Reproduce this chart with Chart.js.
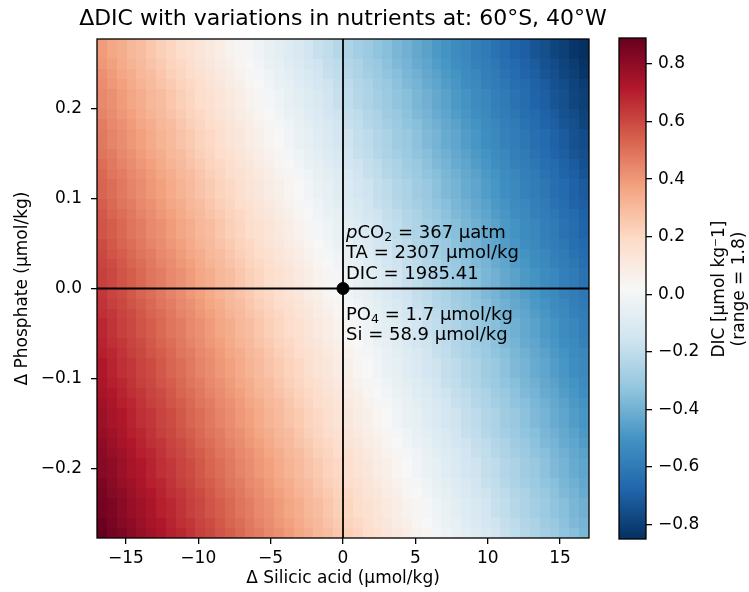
<!DOCTYPE html>
<html>
<head>
<meta charset="utf-8">
<script src="https://cdn.jsdelivr.net/npm/chart.js@4.4.1/dist/chart.umd.min.js"></script>
<style>
    body { margin: 0; background: #fff; }
    #figure { position: relative; width: 749px; height: 592px; font-family: "DejaVu Sans", sans-serif; color: #000; }
    canvas { position: absolute; top: 0; }
    #heatmap { left: 0; }
    #colorbar { left: 600px; }
    .figure-text { position: absolute; white-space: nowrap; }
    #figure-title { left: 0; top: 6px; width: 686px; text-align: center; font-size: 22px; line-height: 24px; }
    .station-note { left: 346px; font-size: 18px; line-height: 20.4px; }
    .station-note sub { font-size: 70%; line-height: 0; vertical-align: -0.25em; }
    #station-carbonate { top: 222px; }
    #station-nutrients { top: 304px; }
    #colorbar-label { left: 578px; top: 269px; width: 300px; height: 40px; text-align: center; font-size: 17px; line-height: 20px; transform: rotate(-90deg); }
</style>
</head>
<body>
<div id="figure">
    <canvas id="heatmap" width="686" height="592"></canvas>
    <canvas id="colorbar" width="149" height="592"></canvas>
    <div id="figure-title" class="figure-text">ΔDIC with variations in nutrients at: 60°S, 40°W</div>
    <div id="station-carbonate" class="figure-text station-note"><i>p</i>CO<sub>2</sub> = 367 μatm<br>TA = 2307 μmol/kg<br>DIC = 1985.41</div>
    <div id="station-nutrients" class="figure-text station-note">PO<sub>4</sub> = 1.7 μmol/kg<br>Si = 58.9 μmol/kg</div>
    <div id="colorbar-label" class="figure-text">DIC [μmol kg⁻1]<br>(range = 1.8)</div>
</div>
<script>
// =========================================================
// DATA
// =========================================================

const siliconLimits = [-17, 17];
const phosphateLimits = [-0.2775, 0.2775];

// cell centres of the grid (Δ silicic acid, Δ phosphate)
const siliconCenters = [
    -16.66, -15.98, -15.30, -14.62, -13.94, -13.26, -12.58, -11.90, -11.22, -10.54,
    -9.86, -9.18, -8.50, -7.82, -7.14, -6.46, -5.78, -5.10, -4.42, -3.74,
    -3.06, -2.38, -1.70, -1.02, -0.34, 0.34, 1.02, 1.70, 2.38, 3.06,
    3.74, 4.42, 5.10, 5.78, 6.46, 7.14, 7.82, 8.50, 9.18, 9.86,
    10.54, 11.22, 11.90, 12.58, 13.26, 13.94, 14.62, 15.30, 15.98, 16.66
];
const phosphateCenters = [
    -0.2720, -0.2609, -0.2498, -0.2387, -0.2276, -0.2165, -0.2054, -0.1943, -0.1832, -0.1721,
    -0.1610, -0.1499, -0.1388, -0.1277, -0.1166, -0.1055, -0.0944, -0.0833, -0.0722, -0.0611,
    -0.0500, -0.0389, -0.0278, -0.0167, -0.0056, 0.0056, 0.0167, 0.0278, 0.0389, 0.0500,
    0.0611, 0.0722, 0.0833, 0.0944, 0.1055, 0.1166, 0.1277, 0.1388, 0.1499, 0.1610,
    0.1721, 0.1832, 0.1943, 0.2054, 0.2165, 0.2276, 0.2387, 0.2498, 0.2609, 0.2720
];

const siliconTicks = [-15, -10, -5, 0, 5, 10, 15];
const phosphateTicks = [-0.2, -0.1, 0, 0.1, 0.2];
const colorbarTicks = [-0.8, -0.6, -0.4, -0.2, 0, 0.2, 0.4, 0.6, 0.8];

const referencePoint = [{ x: 0, y: 0 }];

// ΔDIC in 0.01 µmol/kg, one row per phosphate centre (bottom row first), one value per silicon centre
const dicChangeRows = [
    [89,86,84,81,78,76,73,70,68,65,62,60,57,55,52,49,47,44,42,39,36,34,31,29,26,23,21,18,16,13,11,8,5,3,0,-2,-5,-7,-10,-12,-15,-18,-20,-23,-25,-28,-30,-33,-35,-38],
    [88,85,82,80,77,74,72,69,66,64,61,59,56,53,51,48,45,43,40,38,35,32,30,27,25,22,20,17,14,12,9,7,4,2,-1,-4,-6,-9,-11,-14,-16,-19,-21,-24,-26,-29,-31,-34,-37,-39],
    [86,84,81,78,76,73,70,68,65,62,60,57,55,52,49,47,44,42,39,36,34,31,29,26,23,21,18,16,13,11,8,5,3,0,-2,-5,-7,-10,-12,-15,-18,-20,-23,-25,-28,-30,-33,-35,-38,-40],
    [86,84,81,78,76,73,70,68,65,62,60,57,55,52,49,47,44,42,39,36,34,31,29,26,23,21,18,16,13,11,8,5,3,0,-2,-5,-7,-10,-12,-15,-18,-20,-23,-25,-28,-30,-33,-35,-38,-40],
    [85,82,80,77,74,72,69,66,64,61,59,56,53,51,48,45,43,40,38,35,32,30,27,25,22,20,17,14,12,9,7,4,2,-1,-4,-6,-9,-11,-14,-16,-19,-21,-24,-26,-29,-31,-34,-37,-39,-42],
    [84,81,78,76,73,70,68,65,62,60,57,55,52,49,47,44,42,39,36,34,31,29,26,23,21,18,16,13,11,8,5,3,0,-2,-5,-7,-10,-12,-15,-18,-20,-23,-25,-28,-30,-33,-35,-38,-40,-43],
    [82,80,77,74,72,69,66,64,61,59,56,53,51,48,45,43,40,38,35,32,30,27,25,22,20,17,14,12,9,7,4,2,-1,-4,-6,-9,-11,-14,-16,-19,-21,-24,-26,-29,-31,-34,-37,-39,-42,-44],
    [82,80,77,74,72,69,66,64,61,59,56,53,51,48,45,43,40,38,35,32,30,27,25,22,20,17,14,12,9,7,4,2,-1,-4,-6,-9,-11,-14,-16,-19,-21,-24,-26,-29,-31,-34,-37,-39,-42,-44],
    [81,78,76,73,70,68,65,62,60,57,55,52,49,47,44,42,39,36,34,31,29,26,23,21,18,16,13,11,8,5,3,0,-2,-5,-7,-10,-12,-15,-18,-20,-23,-25,-28,-30,-33,-35,-38,-40,-43,-45],
    [80,77,74,72,69,66,64,61,59,56,53,51,48,45,43,40,38,35,32,30,27,25,22,20,17,14,12,9,7,4,2,-1,-4,-6,-9,-11,-14,-16,-19,-21,-24,-26,-29,-31,-34,-37,-39,-42,-44,-47],
    [78,76,73,70,68,65,62,60,57,55,52,49,47,44,42,39,36,34,31,29,26,23,21,18,16,13,11,8,5,3,0,-2,-5,-7,-10,-12,-15,-18,-20,-23,-25,-28,-30,-33,-35,-38,-40,-43,-45,-48],
    [77,74,72,69,66,64,61,59,56,53,51,48,45,43,40,38,35,32,30,27,25,22,20,17,14,12,9,7,4,2,-1,-4,-6,-9,-11,-14,-16,-19,-21,-24,-26,-29,-31,-34,-37,-39,-42,-44,-47,-49],
    [77,74,72,69,66,64,61,59,56,53,51,48,45,43,40,38,35,32,30,27,25,22,20,17,14,12,9,7,4,2,-1,-4,-6,-9,-11,-14,-16,-19,-21,-24,-26,-29,-31,-34,-37,-39,-42,-44,-47,-49],
    [76,73,70,68,65,62,60,57,55,52,49,47,44,42,39,36,34,31,29,26,23,21,18,16,13,11,8,5,3,0,-2,-5,-7,-10,-12,-15,-18,-20,-23,-25,-28,-30,-33,-35,-38,-40,-43,-45,-48,-50],
    [74,72,69,66,64,61,59,56,53,51,48,45,43,40,38,35,32,30,27,25,22,20,17,14,12,9,7,4,2,-1,-4,-6,-9,-11,-14,-16,-19,-21,-24,-26,-29,-31,-34,-37,-39,-42,-44,-47,-49,-52],
    [73,70,68,65,62,60,57,55,52,49,47,44,42,39,36,34,31,29,26,23,21,18,16,13,11,8,5,3,0,-2,-5,-7,-10,-12,-15,-18,-20,-23,-25,-28,-30,-33,-35,-38,-40,-43,-45,-48,-50,-53],
    [72,69,66,64,61,59,56,53,51,48,45,43,40,38,35,32,30,27,25,22,20,17,14,12,9,7,4,2,-1,-4,-6,-9,-11,-14,-16,-19,-21,-24,-26,-29,-31,-34,-37,-39,-42,-44,-47,-49,-52,-54],
    [72,69,66,64,61,59,56,53,51,48,45,43,40,38,35,32,30,27,25,22,20,17,14,12,9,7,4,2,-1,-4,-6,-9,-11,-14,-16,-19,-21,-24,-26,-29,-31,-34,-37,-39,-42,-44,-47,-49,-52,-54],
    [70,68,65,62,60,57,55,52,49,47,44,42,39,36,34,31,29,26,23,21,18,16,13,11,8,5,3,0,-2,-5,-7,-10,-12,-15,-18,-20,-23,-25,-28,-30,-33,-35,-38,-40,-43,-45,-48,-50,-53,-55],
    [69,66,64,61,59,56,53,51,48,45,43,40,38,35,32,30,27,25,22,20,17,14,12,9,7,4,2,-1,-4,-6,-9,-11,-14,-16,-19,-21,-24,-26,-29,-31,-34,-37,-39,-42,-44,-47,-49,-52,-54,-57],
    [68,65,62,60,57,55,52,49,47,44,42,39,36,34,31,29,26,23,21,18,16,13,11,8,5,3,0,-2,-5,-7,-10,-12,-15,-18,-20,-23,-25,-28,-30,-33,-35,-38,-40,-43,-45,-48,-50,-53,-55,-58],
    [68,65,62,60,57,55,52,49,47,44,42,39,36,34,31,29,26,23,21,18,16,13,11,8,5,3,0,-2,-5,-7,-10,-12,-15,-18,-20,-23,-25,-28,-30,-33,-35,-38,-40,-43,-45,-48,-50,-53,-55,-58],
    [66,64,61,59,56,53,51,48,45,43,40,38,35,32,30,27,25,22,20,17,14,12,9,7,4,2,-1,-4,-6,-9,-11,-14,-16,-19,-21,-24,-26,-29,-31,-34,-37,-39,-42,-44,-47,-49,-52,-54,-57,-59],
    [65,62,60,57,55,52,49,47,44,42,39,36,34,31,29,26,23,21,18,16,13,11,8,5,3,0,-2,-5,-7,-10,-12,-15,-18,-20,-23,-25,-28,-30,-33,-35,-38,-40,-43,-45,-48,-50,-53,-55,-58,-60],
    [64,61,59,56,53,51,48,45,43,40,38,35,32,30,27,25,22,20,17,14,12,9,7,4,2,-1,-4,-6,-9,-11,-14,-16,-19,-21,-24,-26,-29,-31,-34,-37,-39,-42,-44,-47,-49,-52,-54,-57,-59,-61],
    [62,60,57,55,52,49,47,44,42,39,36,34,31,29,26,23,21,18,16,13,11,8,5,3,0,-2,-5,-7,-10,-12,-15,-18,-20,-23,-25,-28,-30,-33,-35,-38,-40,-43,-45,-48,-50,-53,-55,-58,-60,-63],
    [62,60,57,55,52,49,47,44,42,39,36,34,31,29,26,23,21,18,16,13,11,8,5,3,0,-2,-5,-7,-10,-12,-15,-18,-20,-23,-25,-28,-30,-33,-35,-38,-40,-43,-45,-48,-50,-53,-55,-58,-60,-63],
    [61,59,56,53,51,48,45,43,40,38,35,32,30,27,25,22,20,17,14,12,9,7,4,2,-1,-4,-6,-9,-11,-14,-16,-19,-21,-24,-26,-29,-31,-34,-37,-39,-42,-44,-47,-49,-52,-54,-57,-59,-61,-64],
    [60,57,55,52,49,47,44,42,39,36,34,31,29,26,23,21,18,16,13,11,8,5,3,0,-2,-5,-7,-10,-12,-15,-18,-20,-23,-25,-28,-30,-33,-35,-38,-40,-43,-45,-48,-50,-53,-55,-58,-60,-63,-65],
    [59,56,53,51,48,45,43,40,38,35,32,30,27,25,22,20,17,14,12,9,7,4,2,-1,-4,-6,-9,-11,-14,-16,-19,-21,-24,-26,-29,-31,-34,-37,-39,-42,-44,-47,-49,-52,-54,-57,-59,-61,-64,-66],
    [57,55,52,49,47,44,42,39,36,34,31,29,26,23,21,18,16,13,11,8,5,3,0,-2,-5,-7,-10,-12,-15,-18,-20,-23,-25,-28,-30,-33,-35,-38,-40,-43,-45,-48,-50,-53,-55,-58,-60,-63,-65,-68],
    [57,55,52,49,47,44,42,39,36,34,31,29,26,23,21,18,16,13,11,8,5,3,0,-2,-5,-7,-10,-12,-15,-18,-20,-23,-25,-28,-30,-33,-35,-38,-40,-43,-45,-48,-50,-53,-55,-58,-60,-63,-65,-68],
    [56,53,51,48,45,43,40,38,35,32,30,27,25,22,20,17,14,12,9,7,4,2,-1,-4,-6,-9,-11,-14,-16,-19,-21,-24,-26,-29,-31,-34,-37,-39,-42,-44,-47,-49,-52,-54,-57,-59,-61,-64,-66,-69],
    [55,52,49,47,44,42,39,36,34,31,29,26,23,21,18,16,13,11,8,5,3,0,-2,-5,-7,-10,-12,-15,-18,-20,-23,-25,-28,-30,-33,-35,-38,-40,-43,-45,-48,-50,-53,-55,-58,-60,-63,-65,-68,-70],
    [53,51,48,45,43,40,38,35,32,30,27,25,22,20,17,14,12,9,7,4,2,-1,-4,-6,-9,-11,-14,-16,-19,-21,-24,-26,-29,-31,-34,-37,-39,-42,-44,-47,-49,-52,-54,-57,-59,-61,-64,-66,-69,-71],
    [53,51,48,45,43,40,38,35,32,30,27,25,22,20,17,14,12,9,7,4,2,-1,-4,-6,-9,-11,-14,-16,-19,-21,-24,-26,-29,-31,-34,-37,-39,-42,-44,-47,-49,-52,-54,-57,-59,-61,-64,-66,-69,-71],
    [52,49,47,44,42,39,36,34,31,29,26,23,21,18,16,13,11,8,5,3,0,-2,-5,-7,-10,-12,-15,-18,-20,-23,-25,-28,-30,-33,-35,-38,-40,-43,-45,-48,-50,-53,-55,-58,-60,-63,-65,-68,-70,-73],
    [51,48,45,43,40,38,35,32,30,27,25,22,20,17,14,12,9,7,4,2,-1,-4,-6,-9,-11,-14,-16,-19,-21,-24,-26,-29,-31,-34,-37,-39,-42,-44,-47,-49,-52,-54,-57,-59,-61,-64,-66,-69,-71,-74],
    [49,47,44,42,39,36,34,31,29,26,23,21,18,16,13,11,8,5,3,0,-2,-5,-7,-10,-12,-15,-18,-20,-23,-25,-28,-30,-33,-35,-38,-40,-43,-45,-48,-50,-53,-55,-58,-60,-63,-65,-68,-70,-73,-75],
    [48,45,43,40,38,35,32,30,27,25,22,20,17,14,12,9,7,4,2,-1,-4,-6,-9,-11,-14,-16,-19,-21,-24,-26,-29,-31,-34,-37,-39,-42,-44,-47,-49,-52,-54,-57,-59,-61,-64,-66,-69,-71,-74,-76],
    [48,45,43,40,38,35,32,30,27,25,22,20,17,14,12,9,7,4,2,-1,-4,-6,-9,-11,-14,-16,-19,-21,-24,-26,-29,-31,-34,-37,-39,-42,-44,-47,-49,-52,-54,-57,-59,-61,-64,-66,-69,-71,-74,-76],
    [47,44,42,39,36,34,31,29,26,23,21,18,16,13,11,8,5,3,0,-2,-5,-7,-10,-12,-15,-18,-20,-23,-25,-28,-30,-33,-35,-38,-40,-43,-45,-48,-50,-53,-55,-58,-60,-63,-65,-68,-70,-73,-75,-78],
    [45,43,40,38,35,32,30,27,25,22,20,17,14,12,9,7,4,2,-1,-4,-6,-9,-11,-14,-16,-19,-21,-24,-26,-29,-31,-34,-37,-39,-42,-44,-47,-49,-52,-54,-57,-59,-61,-64,-66,-69,-71,-74,-76,-79],
    [44,42,39,36,34,31,29,26,23,21,18,16,13,11,8,5,3,0,-2,-5,-7,-10,-12,-15,-18,-20,-23,-25,-28,-30,-33,-35,-38,-40,-43,-45,-48,-50,-53,-55,-58,-60,-63,-65,-68,-70,-73,-75,-78,-80],
    [44,42,39,36,34,31,29,26,23,21,18,16,13,11,8,5,3,0,-2,-5,-7,-10,-12,-15,-18,-20,-23,-25,-28,-30,-33,-35,-38,-40,-43,-45,-48,-50,-53,-55,-58,-60,-63,-65,-68,-70,-73,-75,-78,-80],
    [43,40,38,35,32,30,27,25,22,20,17,14,12,9,7,4,2,-1,-4,-6,-9,-11,-14,-16,-19,-21,-24,-26,-29,-31,-34,-37,-39,-42,-44,-47,-49,-52,-54,-57,-59,-61,-64,-66,-69,-71,-74,-76,-79,-81],
    [42,39,36,34,31,29,26,23,21,18,16,13,11,8,5,3,0,-2,-5,-7,-10,-12,-15,-18,-20,-23,-25,-28,-30,-33,-35,-38,-40,-43,-45,-48,-50,-53,-55,-58,-60,-63,-65,-68,-70,-73,-75,-78,-80,-83],
    [40,38,35,32,30,27,25,22,20,17,14,12,9,7,4,2,-1,-4,-6,-9,-11,-14,-16,-19,-21,-24,-26,-29,-31,-34,-37,-39,-42,-44,-47,-49,-52,-54,-57,-59,-61,-64,-66,-69,-71,-74,-76,-79,-81,-84],
    [39,36,34,31,29,26,23,21,18,16,13,11,8,5,3,0,-2,-5,-7,-10,-12,-15,-18,-20,-23,-25,-28,-30,-33,-35,-38,-40,-43,-45,-48,-50,-53,-55,-58,-60,-63,-65,-68,-70,-73,-75,-78,-80,-83,-85],
    [39,36,34,31,29,26,23,21,18,16,13,11,8,5,3,0,-2,-5,-7,-10,-12,-15,-18,-20,-23,-25,-28,-30,-33,-35,-38,-40,-43,-45,-48,-50,-53,-55,-58,-60,-63,-65,-68,-70,-73,-75,-78,-80,-83,-85]
];

// =========================================================
// COLOUR MAP (matplotlib RdBu_r)
// =========================================================

const RDBU_R_STOPS = [
    [5, 48, 97], [33, 102, 172], [67, 147, 195], [146, 197, 222], [209, 229, 240], [247, 247, 247],
    [253, 219, 199], [244, 165, 130], [214, 96, 77], [178, 24, 43], [103, 0, 31]
];

const allValues = dicChangeRows.flat().map(value => value / 100);
const colourMin = Math.min(...allValues);
const colourMax = Math.max(...allValues);

function colourForFraction(fraction) {
    const clamped = Math.min(1, Math.max(0, fraction));
    const position = clamped * (RDBU_R_STOPS.length - 1);
    const lowerIndex = Math.min(Math.floor(position), RDBU_R_STOPS.length - 2);
    const weight = position - lowerIndex;
    const lower = RDBU_R_STOPS[lowerIndex];
    const upper = RDBU_R_STOPS[lowerIndex + 1];

    const channels = lower.map((channel, index) => Math.round(channel + (upper[index] - channel) * weight));

    return "rgb(" + channels.join(",") + ")";
}

function colourForValue(value) {
    return colourForFraction((value - colourMin) / (colourMax - colourMin));
}

// =========================================================
// HELPERS
// =========================================================

Chart.defaults.font.family = "'DejaVu Sans', sans-serif";
Chart.defaults.color = "#000";

function formatTick(value, decimals) {
    return Number(value).toFixed(decimals).replace("-", "\u2212");
}

function centersToEdges(centers) {
    const edges = [centers[0] - (centers[1] - centers[0]) / 2];

    for (let index = 1; index < centers.length; index++) {
        edges.push((centers[index - 1] + centers[index]) / 2);
    }

    const last = centers.length - 1;
    edges.push(centers[last] + (centers[last] - centers[last - 1]) / 2);

    return edges;
}

function tickMarks() {
    return {
        drawOnChartArea: false,
        drawTicks: true,
        tickLength: 6,
        color: "#000",
        lineWidth: 1.3
    };
}

function drawFrame(chart) {
    const area = chart.chartArea;
    const ctx = chart.ctx;

    ctx.save();
    ctx.strokeStyle = "#000";
    ctx.lineWidth = 1.3;
    ctx.strokeRect(area.left, area.top, area.right - area.left, area.bottom - area.top);
    ctx.restore();
}

// --- Plugins --- //

const heatmapCellsPlugin = {
    id: "heatmapCells",
    beforeDatasetsDraw(chart) {
        const ctx = chart.ctx;
        const xScale = chart.scales.x;
        const yScale = chart.scales.y;
        const xEdges = centersToEdges(siliconCenters);
        const yEdges = centersToEdges(phosphateCenters);

        ctx.save();

        for (let rowIndex = 0; rowIndex < dicChangeRows.length; rowIndex++) {
            const row = dicChangeRows[rowIndex];
            const bottom = Math.round(yScale.getPixelForValue(yEdges[rowIndex]));
            const top = Math.round(yScale.getPixelForValue(yEdges[rowIndex + 1]));

            for (let columnIndex = 0; columnIndex < row.length; columnIndex++) {
                const left = Math.round(xScale.getPixelForValue(xEdges[columnIndex]));
                const right = Math.round(xScale.getPixelForValue(xEdges[columnIndex + 1]));

                ctx.fillStyle = colourForValue(row[columnIndex] / 100);
                ctx.fillRect(left, top, right - left, bottom - top);
            }
        }

        ctx.restore();
    },
    afterDatasetsDraw(chart) {
        drawFrame(chart);
    }
};

const colorbarPlugin = {
    id: "colorbarFill",
    beforeDatasetsDraw(chart) {
        const ctx = chart.ctx;
        const area = chart.chartArea;
        const yScale = chart.scales.y;
        const bottom = yScale.getPixelForValue(colourMin);
        const top = yScale.getPixelForValue(colourMax);

        const gradient = ctx.createLinearGradient(0, bottom, 0, top);

        for (let stopIndex = 0; stopIndex < RDBU_R_STOPS.length; stopIndex++) {
            const fraction = stopIndex / (RDBU_R_STOPS.length - 1);
            gradient.addColorStop(fraction, colourForFraction(fraction));
        }

        ctx.save();
        ctx.fillStyle = gradient;
        ctx.fillRect(area.left, top, area.right - area.left, bottom - top);
        ctx.restore();
    },
    afterDatasetsDraw(chart) {
        drawFrame(chart);
    }
};

// =========================================================
// CHARTS
// =========================================================

const heatmapChart = new Chart(document.getElementById("heatmap"), {
    type: "scatter",
    data: {
        datasets: [
            {
                data: referencePoint,
                pointRadius: 6,
                backgroundColor: "#000",
                borderColor: "#000"
            },
            {
                data: [{ x: siliconLimits[0], y: 0 }, { x: siliconLimits[1], y: 0 }],
                showLine: true,
                borderColor: "#000",
                borderWidth: 1.8,
                pointRadius: 0
            },
            {
                data: [{ x: 0, y: phosphateLimits[0] }, { x: 0, y: phosphateLimits[1] }],
                showLine: true,
                borderColor: "#000",
                borderWidth: 1.8,
                pointRadius: 0
            }
        ]
    },
    options: {
        responsive: false,
        animation: false,
        events: [],
        layout: {
            padding: { top: 39, right: 97, bottom: 0, left: 0 }
        },
        plugins: {
            legend: { display: false },
            tooltip: { enabled: false }
        },
        scales: {
            x: {
                type: "linear",
                min: siliconLimits[0],
                max: siliconLimits[1],
                afterBuildTicks: scale => { scale.ticks = siliconTicks.map(value => ({ value: value })); },
                afterFit: scale => { scale.height = 54; },
                grid: tickMarks(),
                border: { display: false },
                ticks: {
                    color: "#000",
                    font: { size: 17 },
                    padding: 4,
                    maxRotation: 0,
                    callback: value => formatTick(value, 0)
                },
                title: {
                    display: true,
                    text: "Δ Silicic acid (μmol/kg)",
                    color: "#000",
                    font: { size: 17 },
                    padding: { top: 0, bottom: 3 }
                }
            },
            y: {
                type: "linear",
                min: phosphateLimits[0],
                max: phosphateLimits[1],
                afterBuildTicks: scale => { scale.ticks = phosphateTicks.map(value => ({ value: value })); },
                afterFit: scale => { scale.width = 97; },
                grid: tickMarks(),
                border: { display: false },
                ticks: {
                    color: "#000",
                    font: { size: 17 },
                    padding: 9,
                    callback: value => formatTick(value, 1)
                },
                title: {
                    display: true,
                    text: "Δ Phosphate (μmol/kg)",
                    color: "#000",
                    font: { size: 17 },
                    padding: { top: 12, bottom: 0 }
                }
            }
        }
    },
    plugins: [heatmapCellsPlugin]
});

const colorbarChart = new Chart(document.getElementById("colorbar"), {
    type: "scatter",
    data: { datasets: [] },
    options: {
        responsive: false,
        animation: false,
        events: [],
        layout: {
            padding: { top: 38, right: 0, bottom: 53, left: 19 }
        },
        plugins: {
            legend: { display: false },
            tooltip: { enabled: false }
        },
        scales: {
            x: { display: false, min: 0, max: 1 },
            y: {
                type: "linear",
                position: "right",
                min: colourMin,
                max: colourMax,
                afterBuildTicks: scale => { scale.ticks = colorbarTicks.map(value => ({ value: value })); },
                afterFit: scale => { scale.width = 103; },
                grid: tickMarks(),
                border: { display: false },
                ticks: {
                    color: "#000",
                    font: { size: 17 },
                    padding: 6,
                    callback: value => formatTick(value, 1)
                }
            }
        }
    },
    plugins: [colorbarPlugin]
});
</script>
</body>
</html>
